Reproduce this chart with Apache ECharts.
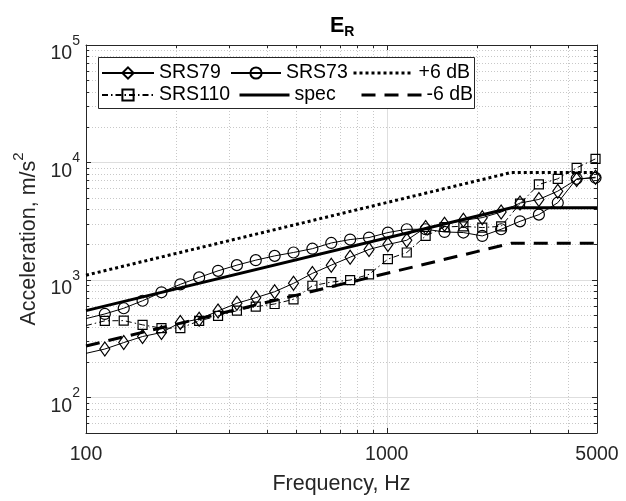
<!DOCTYPE html>
<html><head><meta charset="utf-8">
<script src="https://cdn.jsdelivr.net/npm/echarts@6/dist/echarts.min.js"></script>
<style>html,body{margin:0;padding:0;background:#fff}#c{width:626px;height:501px}</style>
</head><body><div id="c"></div>
<script>
// ---- data ----
const srsFreq = [100,115.5,133.5,154.2,178.2,205.9,237.8,274.8,317.5,366.8,423.8,489.7,565.8,653.8,755.4,872.9,1008.6,1165.4,1346.6,1555.9,1797.8,2077.3,2400.3,2773.5,3204.7,3703.0,4278.7,4943.9];
const srs79  = [238,259,294,331,358,435,465,546,635,708,796,938,1140,1340,1566,1821,2008,2183,2798,2982,3224,3398,3792,4520,4856,5709,7175,7505];
const srs73  = [470,515,576,667,787,920,1054,1199,1340,1477,1606,1717,1849,2070,2212,2301,2537,2706,2706,2566,2537,2374,2706,3162,3604,4552,7275,7418];
const srs110 = [410,450,452,416,390,390,450,495,549,594,626,686,895,962,1000,1118,1507,1717,2374,2830,2869,2797,2869,4467,6509,7275,9020,10750];
const specFreq  = [100, 2600, 5000];
const specVal   = [550, 4120, 4120];
const plus6Val  = [1100, 8240, 8240];
const minus6Val = [275, 2060, 2060];
const xMajorTicks = [100, 1000, 5000];
const xMinorTicks = [200,300,400,500,600,700,800,900,2000,3000,4000];
const yMajorTicks = [100, 1000, 10000, 100000];
const yMinorTicks = [60,70,80,90,200,300,400,500,600,700,800,900,2000,3000,4000,5000,6000,7000,8000,9000,20000,30000,40000,50000,60000,70000,80000,90000];

const AX = '#262626';
const FONT = 'Liberation Sans, Arial, sans-serif';
const chart = echarts.init(document.getElementById('c'), null, {renderer: 'canvas'});

function xAxisDef(pos, ticks, len, opts) {
  return Object.assign({
    type: 'log', logBase: 10, min: 100, max: 5000, position: pos,
    axisLine: {show: true, onZero: false, lineStyle: {color: AX, width: 1}},
    axisTick: {show: true, inside: true, length: len, customValues: ticks, lineStyle: {color: AX, width: 1}},
    axisLabel: {show: false},
    splitLine: {show: false},
    minorTick: {show: false}, minorSplitLine: {show: false}
  }, opts || {});
}
function yAxisDef(pos, ticks, len, opts) {
  return Object.assign({
    type: 'log', logBase: 10, min: 50, max: 100000, position: pos,
    axisLine: {show: true, onZero: false, lineStyle: {color: AX, width: 1}},
    axisTick: {show: true, inside: true, length: len, customValues: ticks, lineStyle: {color: AX, width: 1}},
    axisLabel: {show: false},
    splitLine: {show: false},
    minorTick: {show: false}, minorSplitLine: {show: false}
  }, opts || {});
}

const xAxes = [
  xAxisDef('bottom', xMajorTicks, 5, {
    name: 'Frequency, Hz', nameLocation: 'middle', nameGap: 40,
    nameTextStyle: {fontSize: 21.5, color: AX, fontFamily: FONT},
    axisLabel: {show: true, customValues: xMajorTicks, fontSize: 19.5, color: AX, fontFamily: FONT, margin: 12,
      formatter: v => String(Math.round(v))},
    splitLine: {show: true, lineStyle: {color: '#dedede', width: 1}}
  }),
  xAxisDef('bottom', xMinorTicks, 3, {
    axisLine: {show: false},
    splitLine: {show: true, lineStyle: {color: '#c8c8c8', width: 1, type: [1, 2]}}
  }),
  xAxisDef('top', xMajorTicks, 5),
  xAxisDef('top', xMinorTicks, 3, {axisLine: {show: false}})
];

const yAxes = [
  yAxisDef('left', yMajorTicks, 5, {
    name: '{a|Acceleration, m/s}{s|2}', nameLocation: 'middle', nameGap: 40,
    nameTextStyle: {rich: {
      a: {fontSize: 21.5, color: AX, fontFamily: FONT, lineHeight: 28, verticalAlign: 'bottom'},
      s: {fontSize: 15, color: AX, fontFamily: FONT, lineHeight: 10, verticalAlign: 'top'}
    }},
    axisLabel: {show: true, customValues: yMajorTicks, margin: 6, padding: [8, 0, 0, 0],
      formatter: v => '{b|10}{s|' + Math.round(Math.log10(v)) + '}',
      rich: {
        b: {fontSize: 19.5, color: AX, fontFamily: FONT, lineHeight: 30, verticalAlign: 'bottom'},
        s: {fontSize: 14, color: AX, fontFamily: FONT, lineHeight: 12, verticalAlign: 'top'}
      }},
    splitLine: {show: true, lineStyle: {color: '#dedede', width: 1}}
  }),
  yAxisDef('left', yMinorTicks, 3, {
    axisLine: {show: false},
    splitLine: {show: true, lineStyle: {color: '#c8c8c8', width: 1, type: [1, 2]}}
  }),
  yAxisDef('right', yMajorTicks, 5),
  yAxisDef('right', yMinorTicks, 3, {axisLine: {show: false}})
];

function pts(fr, vals, marked) {
  return fr.map((f, i) => marked && i === 0 ? {value: [f, vals[i]], symbol: 'none'} : {value: [f, vals[i]]});
}
const hollow = {color: 'transparent', borderColor: '#000', borderWidth: 1.2};
const dotted = [3, 3], dashed = [14, 9];
const series = [
  {name: 'SRS79', type: 'line', data: pts(srsFreq, srs79, true), symbol: 'diamond', symbolSize: [10, 14],
   lineStyle: {color: '#000', width: 1}, itemStyle: hollow, z: 3},
  {name: 'SRS73', type: 'line', data: pts(srsFreq, srs73, true), symbol: 'circle', symbolSize: 11,
   lineStyle: {color: '#000', width: 1}, itemStyle: hollow, z: 3},
  {name: '+6 dB', type: 'line', data: pts(specFreq, plus6Val, false), symbol: 'none',
   lineStyle: {color: '#000', width: 3, type: dotted, cap: 'butt'}, itemStyle: {color: '#000'}, z: 2},
  {name: 'SRS110', type: 'line', data: pts(srsFreq, srs110, true), symbol: 'rect', symbolSize: 9,
   lineStyle: {color: '#000', width: 1, type: [6, 3, 1.5, 3]}, itemStyle: hollow, z: 3},
  {name: 'spec', type: 'line', data: pts(specFreq, specVal, false), symbol: 'none',
   lineStyle: {color: '#000', width: 3}, itemStyle: {color: '#000'}, z: 2},
  {name: '-6 dB', type: 'line', data: pts(specFreq, minus6Val, false), symbol: 'none',
   lineStyle: {color: '#000', width: 3, type: dashed}, itemStyle: {color: '#000'}, z: 2}
];
series.forEach(s => { s.xAxisIndex = 0; s.yAxisIndex = 0; s.emphasis = {disabled: true}; s.silent = true; s.clip = true; });

function leg(name, left, rowCenter, w, thickType) {
  const o = {data: [name], left: left, top: rowCenter - 11, padding: 0, itemWidth: w, itemHeight: 14, itemGap: 0,
    selectedMode: false, z: 6, orient: 'horizontal',
    textStyle: {fontSize: 19.5, color: '#000', fontFamily: FONT, lineHeight: 22}};
  if (thickType) {
    o.itemStyle = {opacity: 0};
    o.lineStyle = {width: 3, color: '#000', type: thickType, opacity: 1, cap: 'butt'};
  }
  return o;
}
const ROW1 = 73, ROW2 = 95;

chart.setOption({
  animation: false,
  backgroundColor: '#fff',
  title: {text: '{e|E}{r|R}', left: 330, top: 15, padding: 0,
    textStyle: {rich: {
      e: {fontSize: 21.5, fontWeight: 'bold', color: '#000', fontFamily: FONT, lineHeight: 24, verticalAlign: 'top'},
      r: {fontSize: 14, fontWeight: 'bold', color: '#000', fontFamily: FONT, lineHeight: 12, verticalAlign: 'bottom'}
    }}},
  grid: {left: 86, right: 29, top: 45, bottom: 68, containLabel: false},
  xAxis: xAxes,
  yAxis: yAxes,
  legend: [
    leg('SRS79', 101, ROW1, 52), leg('SRS110', 101, ROW2, 52),
    leg('SRS73', 230, ROW1, 50), leg('spec', 238, ROW2, 50, 'solid'),
    leg('+6 dB', 352, ROW1, 60, dotted), leg('-6 dB', 360, ROW2, 60, dashed)
  ],
  graphic: [{type: 'rect', left: 98, top: 57, z: 5, silent: true,
    shape: {width: 376, height: 51}, style: {fill: '#fff', stroke: AX, lineWidth: 1}}],
  series: series
});
</script></body></html>
